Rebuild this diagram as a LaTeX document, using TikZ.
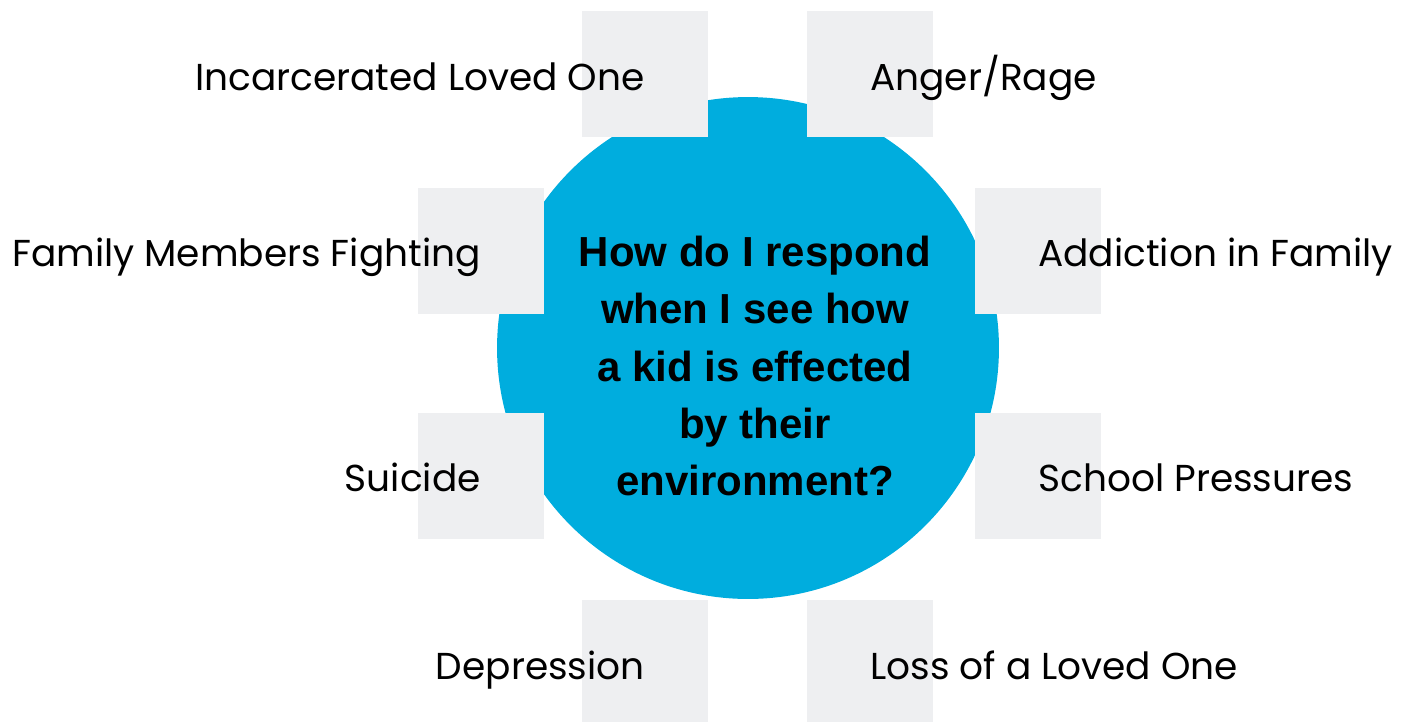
\documentclass[tikz,border=0pt]{standalone}
\usepackage{fontspec}
\usetikzlibrary{positioning}
\newfontfamily\labelfont{Poppins}
\newfontfamily\askfont{Liberation Sans}
\definecolor{hubblue}{RGB}{0,173,222}
\definecolor{tilegray}{RGB}{238,239,241}

\begin{document}
\begin{tikzpicture}[
                  x=0.02cm, y=-0.02cm,
                  hub/.style={circle, fill=hubblue, minimum size=10.04cm, inner sep=0pt},
                  tile/.style={rectangle, fill=tilegray, minimum width=2.52cm, minimum height=2.52cm, inner sep=0pt},
                  lbl/.style={font=\labelfont\fontsize{0.75cm}{0.9cm}\selectfont, inner sep=0pt},
                  ask/.style={font=\askfont\bfseries\fontsize{0.84cm}{1.15cm}\selectfont, align=center, inner sep=0pt}
            ]
            \clip (0,0) rectangle (1413,721);

            % Circle
            \node (center) [hub] at (748,348) {};

            % Tiles
            \node (tileIncarc) [tile] at (645,74) {};
            \node (tileAnger) [tile] at (870,74) {};
            \node (tileFight) [tile] at (481,251) {};
            \node (tileAddict) [tile] at (1038,251) {};
            \node (tileSuicide) [tile] at (481,476) {};
            \node (tileSchool) [tile] at (1038,476) {};
            \node (tileDepress) [tile] at (645,663) {};
            \node (tileLoss) [tile] at (870,663) {};

            % Question
            \node (question) [ask] at (755,366) {How do I respond\\when I see how\\a kid is effected\\by their\\environment?};

            % Labels
            \node (incarc) [lbl, anchor=base east] at ([yshift=-0.32cm]tileIncarc.center) {Incarcerated Loved One};
            \node (anger) [lbl, anchor=base west] at ([yshift=-0.32cm]tileAnger.center) {Anger/Rage};
            \node (fight) [lbl, anchor=base east] at ([yshift=-0.3cm]tileFight.center) {Family Members Fighting};
            \node (addict) [lbl, anchor=base west] at ([yshift=-0.3cm]tileAddict.center) {Addiction in Family};
            \node (suicide) [lbl, anchor=base east] at ([yshift=-0.3cm]tileSuicide.center) {Suicide};
            \node (school) [lbl, anchor=base west] at ([yshift=-0.3cm]tileSchool.center) {School Pressures};
            \node (depress) [lbl, anchor=base east] at ([yshift=-0.32cm]tileDepress.center) {Depression};
            \node (loss) [lbl, anchor=base west] at ([yshift=-0.32cm]tileLoss.center) {Loss of a Loved One};

      \end{tikzpicture}
\end{document}
